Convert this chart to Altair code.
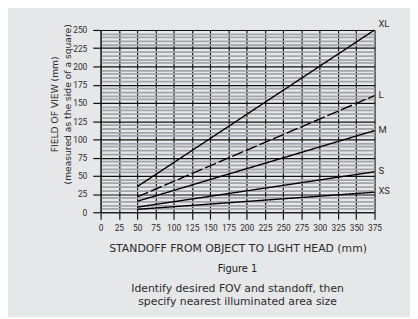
import altair as alt
import pandas as pd

# Data
sizes = ["XL", "L", "M", "S", "XS"]
standoff = [50, 375]
fov_start = [35, 21, 15, 7, 4]
fov_end = [250, 160, 112, 55.5, 27.5]

x_ticks = list(range(0, 376, 25))
y_ticks = list(range(0, 251, 5))

rows = []
for s, a, b in zip(sizes, fov_start, fov_end):
    rows.append({"size": s, "standoff": standoff[0], "fov": a})
    rows.append({"size": s, "standoff": standoff[1], "fov": b})
df = pd.DataFrame(rows)

FONT_TITLE = "DejaVu Sans"
FONT_TICK = "Roboto"
INK = "#2b2b2b"

x_scale = alt.Scale(domain=[0, 375], nice=False, zero=False)
y_scale = alt.Scale(domain=[0, 250], nice=False, zero=False)

x_axis = alt.Axis(
    values=x_ticks,
    grid=True, gridColor="#111", gridWidth=1.2,
    domainColor="#111", tickColor="#111", tickSize=7, tickWidth=1.2,
    labelFont=FONT_TICK, labelFontSize=8.5, labelColor=INK, labelPadding=5,
    labelOverlap=False, labelFlush=False,
    title="STANDOFF FROM OBJECT TO LIGHT HEAD (mm)",
    titleFont=FONT_TITLE, titleFontSize=11, titleFontWeight="normal",
    titleColor=INK, titleY=37, titleBaseline="middle",
)

y_axis = alt.Axis(
    values=y_ticks,
    grid=True,
    gridColor=alt.condition("datum.value % 25 === 0", alt.value("#111"), alt.value("#a3a5a9")),
    gridWidth=alt.condition("datum.value % 25 === 0", alt.value(1.2), alt.value(1.8)),
    tickOpacity=alt.condition("datum.value % 25 === 0", alt.value(1), alt.value(0)),
    labelExpr="datum.value % 25 === 0 ? datum.label : ''",
    labelOverlap=False, labelFlush=False,
    domainColor="#111", tickColor="#111", tickSize=8, tickWidth=1.2,
    labelFont=FONT_TICK, labelFontSize=8.5, labelColor=INK, labelPadding=6,
    title=["FIELD OF VIEW (mm)", "(measured as the side of a square)"],
    titleFont=FONT_TITLE, titleFontSize=9.3, titleFontWeight="normal",
    titleColor=INK, titleAngle=270, titleX=-47, titleY=75,
    titleAlign="center", titleBaseline="middle", titleLineHeight=13,
)

X = alt.X("standoff:Q", scale=x_scale, axis=x_axis)
Y = alt.Y("fov:Q", scale=y_scale, axis=y_axis)

base = alt.Chart(df)

lines = base.mark_line(color="black", strokeWidth=1.4).encode(
    x=X,
    y=Y,
    detail="size:N",
    strokeDash=alt.condition(alt.datum.size == "L", alt.value([12, 3]), alt.value([1, 0])),
)

label_font = dict(font=FONT_TICK, fontSize=9.5, color=INK, align="left", baseline="middle")

labels_xl = base.transform_filter(
    (alt.datum.standoff == 375) & (alt.datum.size == "XL")
).mark_text(dx=4, dy=-6, **label_font).encode(x=X, y=Y, text="size:N")

labels_rest = base.transform_filter(
    (alt.datum.standoff == 375) & (alt.datum.size != "XL")
).mark_text(dx=4, dy=-1, **label_font).encode(x=X, y=Y, text="size:N")

chart = alt.layer(lines, labels_xl, labels_rest).properties(
    width=278,
    height=185,
    background="#e6e7e8",
    padding={"left": 94, "top": 20, "right": 36, "bottom": 104},
    autosize=alt.AutoSizeParams(type="none"),
    title=alt.TitleParams(
        text="Figure 1",
        subtitle=["Identify desired FOV and standoff, then",
                  "specify nearest illuminated area size"],
        orient="bottom", anchor="middle", offset=11,
        font=FONT_TITLE, fontSize=10, fontWeight="normal", color="#1a1a1a",
        subtitleFont=FONT_TITLE, subtitleFontSize=11, subtitleColor=INK,
        subtitlePadding=9, subtitleLineHeight=13,
    ),
).configure_view(stroke=None)

chart.save("out.html", embed_options={"renderer": "svg", "actions": False})
